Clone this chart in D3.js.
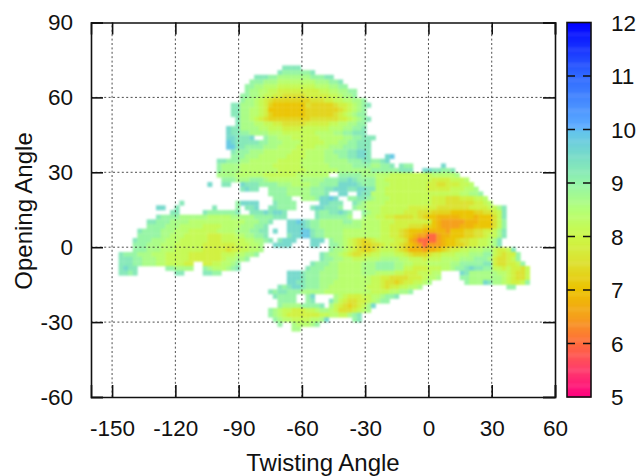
<!DOCTYPE html>
<html><head><meta charset="utf-8">
<script src="https://cdn.jsdelivr.net/npm/d3@7/dist/d3.min.js"></script>
<style>html,body{margin:0;padding:0;background:#fff}text{font-family:"Liberation Sans",Arial,sans-serif;fill:#111}</style>
</head><body><div id="chart"></div>
<script>
const xTicks = [-150,-120,-90,-60,-30,0,30,60];
const yTicks = [-60,-30,0,30,60,90];
const cTicks = [5,6,7,8,9,10,11,12];
const xLabel = "Twisting Angle";
const yLabel = "Opening Angle";
const colorStops = [5,5.5,6,6.5,7,7.5,8,8.5,9,9.5,9.95,10.05,11,12];
const colorValues = ["#ff0080","#ff3c6c","#ff6c3c","#f5a01c","#ecc200","#dde030","#ccf848","#b4ff78","#94f4aa","#78dcc8","#64c4ec","#5cacff","#3068ff","#0000ff"];
// cell value codes
const codeValues = {a:5.95,b:6.5,c:6.8,d:7.05,e:7.3,f:7.55,g:7.85,h:8.15,i:8.4,j:8.65,k:8.95,l:9.25,m:9.55,n:9.85};
// each row: "firstColumn:codes" runs of cells
const gridRows = [
"35:llll",
"34:lkkkkkkl",
"29:lllkkjjjjjjjkkkll",
"28:kkkjjjiiiiiiiijjjkkl",
"27:kkjjiiihhhhhhhhiiijjkk",
"27:kjjiihhggggggggghhiijjkk",
"26:kkjjihhggfffffggggghhijjk",
"26:kjjihgfeeeeeeeefffgghhiijjk",
"24:lljjjihgedddddddfeeeeefgghijkl",
"24:lljjiihgddddddddeeeeeeefghijk",
"24:lljjiihgedddddddeeeeeefghijkk",
"25:ljjihgfeeeeeeeeeffffffgghijkl",
"25:ljjjiihhggfffffggggghhiijjkk",
"23:mlljjjjiihhhgggghhhhhhiiijjkkl",
"23:mllkkjjjjiiihhhhhhhiiiijjkklll",
"23:mmlllm 31:kjjiiihhhhhhiiiiijjkklll",
"23:nmlllllkkjjjiiiihhhhhiiijjkklll",
"23:nnllkkkkjjjiiiihhhhiiijjjkkklll",
"24:lkkkjjjiiiiiihhhiiiijjkkkllmml",
"24:kkkjjjiiiiiihhhhiiiijjjkkllmml 57:mn",
"21:llkkkjjiiiiiihhhhhiiiiijjjjjkkkllkklm",
"21:kjjjjiiiiiiihhhhhhiiiiiijjjjjkkkkjjkkl 60:lkk 69:m",
"21:kjjjjiiiiiiiihhhhhhiiiiiiijjjjjjjkkkkkklll 65:mmllkkl",
"21:jjjjiiiiiihhhhhhhiiiiiii 47:kkkkkjjjiiihhhhhhhhhiiiiij",
"22:kkkjjjkkkj 32:iiiiiiijjjjjkkk 47:llmlkkkk 55:iihhhhhhhh 65:hhgggghhhi",
"19:m 22:ll 26:mlllkkkkjjjiiiijjkkkkkl 47:mmmmlkkk 55:iiihhhhhhh 65:hggffggghhi",
"26:lmll 32:kkkkjjjjjkkkll 46:mmmllmmll 55:iihhhhhh 63:hhhggggghhhiij",
"32:kkkkjjjjjkkkl 47:mm 51:mll 54:iiihhhhhh 63:hhhhhhhhhhiijjk",
"33:kkkk 39:jjjkmmnm 49:kkll 53:kjiiihhhh 62:hhhhhgggfffggghhi",
"13:l 25:kmmmm 33:lkkkk 43:mmlll 50:lkjiiiihhhhhh 63:hhhhgggffffffgghi",
"8:mm 12:l 20:l 25:k 27:llm 32:llkkkk 41:lmmlllk 50:kjjiii 56:hhhhhhggggggfffffffgggghhjl",
"11:ll 18:lkkkkkkl 28:lllmlmml 42:lkkllmlk 52:kjiih 57:hhhhgggfffeeeedddddeeffghl",
"8:lkkkkjjjjjjiiiiijjjjjkkkklll 42:lkkkkkkj 52:jiihhg 58:gffffg 64:feddcccccdddcdddfhl",
"6:llkkkjjjjiiiiiiiiiiiijjjkkl 36:mmnm 40:lkkjjjjjkkjjii 54:iihhhgggggggg 67:dcbbbbbcccdddfhk",
"6:kkkkjjjiiiiihhhhiiiijjjkkl 36:mmmm 40:lkkjjjjjjjjjii 54:iihhggggfffe 66:edcbbbbcccddddfhk",
"4:lkkkkjjjiiihhhhhhiiiijjjkkll 33:m 36:mmmnnl 42:kkjjjjiiiiii 54:iihhggf 61:edddcccccb 71:dddeeffgghjl",
"4:kkkkkjjiiihhhhhggghhhiijjkkl 36:lmmnn 41:lkkjjjjiiiiii 54:iihhggfe 62:dcbbaabcc 71:dddeeffghhjl",
"3:lkkkjjjiiihhhhhhggghhhhhiijjkl 34:lmmm 41:mmm 45:kjjihgfefghhhhggf 62:cbaaaabcd 71:deffgghhijl",
"3:kkkjjjiiihhhhhhggggggghhhiij 33:mmmm 41:mm 45:kkjihgfeeffgh 58:ggfedcbabbbcd 71:deefgghhijl",
"3:kkkjjjiiihhhhhhgggggfgghhiij 45:kjjihgfeefgh 57:hhgfe 62:cccbccd 69:efgghhiiijj 80:hgghl",
"0:lkkkjjjiiihhhhhggggggghhhiijjk 43:lkjjihgffgghhi 57:iihhg 62:feeefgg 69:hhhiiijjjkk 80:hgfggk",
"0:lllkkjjjiihhhhhggggggghiijjk 43:lkkjjiihhhiiij 57:jjjii 62:hhhghhh 69:iiiijjjkkkj 80:gffghk",
"0:lllkkjjjiihhhhgg 18:gghhiijk 41:lkkkjjiiiiijjjkk 57:kkjjiihhhiii 69:iijjkkkkkll 80:gffgghk",
"0:lmll 10:kkjjjj 18:kjiiijkl 40:lkkkjjjiiiiijjjkk 57:kkjjhhggghhh 69:iijkklmllkk 80:hhghggfh",
"0:llkl 12:ll 18:llkk 36:mmmlk 41:kkjjjjiiiiijjjii 57:iihhggghhhii 73:mljjjjjjiihgffh",
"36:mmmlkk 42:kjjjjiiiiiiih 55:hggffffggghiij 73:kkjjjjjjjihgffh",
"36:mmllkk 42:kjjjiiiiiiiih 55:hgffefgghhij 74:kjjjmljjihgghk",
"34:lklmmlkk 42:kjjiiiiiiiihh 55:hgfgghhiij 83:kk",
"32:lkllkkkjjj 42:jjiiiiiiiiiih 55:hhhiijjk",
"33:lkkkk 40:km 46:jihggghhiijkkl",
"34:kkkk 40:kl 45:ljhgffgghijkk",
"34:kjjjjkkkkl 45:jhgfefghjm",
"32:kjihhggghhij 44:jihfffghij",
"32:kjihggggggghhiihhjkl",
"33:kjiihhhhiijm 50:kl",
"34:k 37:jiiijk",
"37:jj"
];
const W=640,H=476;
const x=d3.scaleLinear().domain([-160,60]).range([91,555]);
const y=d3.scaleLinear().domain([-60,90]).range([397,22.5]);
const barY=d3.scaleLinear().domain([5,12]).range([397,22.5]);
const color=d3.scaleLinear().domain(colorStops).range(colorValues).clamp(true);
const xStart=-146.9,xStep=2.215,yStart=72.8,yStep=1.868;
const cells=[];
gridRows.forEach((row,j)=>row.split(" ").forEach(tok=>{
  const [c,codes]=tok.split(":");
  [...codes].forEach((ch,k)=>cells.push({c:+c+k,r:j,v:codeValues[ch]}));
}));
const svg=d3.select("#chart").append("svg").attr("width",W).attr("height",H).style("display","block");
svg.append("g").style("filter","blur(0.9px)").selectAll("rect").data(cells).join("rect")
 .attr("x",d=>x(xStart+d.c*xStep)).attr("y",d=>y(yStart-d.r*yStep))
 .attr("width",x(xStep)-x(0)+0.3).attr("height",y(0)-y(yStep)+0.3)
 .attr("fill",d=>color(d.v));
// grid
const gridG=svg.append("g");
gridG.selectAll("line.gx").data(xTicks.slice(0,-1)).join("line")
 .attr("x1",d=>x(d)).attr("x2",d=>x(d)).attr("y1",y(-60)).attr("y2",y(90));
gridG.selectAll("line.gy").data(yTicks.slice(1,-1)).join("line").attr("class","gy")
 .attr("x1",x(-160)).attr("x2",x(60)).attr("y1",d=>y(d)).attr("y2",d=>y(d));
gridG.selectAll("line").attr("stroke","#222").attr("stroke-width",1).attr("stroke-dasharray","2 2.4").attr("opacity",.8);
// axes
const style=g=>{g.select(".domain").attr("stroke","#111").attr("stroke-width",1.6);
 g.selectAll(".tick line").attr("stroke","#111").attr("stroke-width",1.6);
 g.selectAll("text").attr("font-size",22.5).attr("font-family",'"Liberation Sans",Arial,sans-serif').attr("fill","#111");};
const fmt=d=>String(d);
svg.append("g").attr("transform",`translate(0,${y(-60)})`).call(d3.axisBottom(x).tickValues(xTicks).tickSize(-12).tickPadding(23).tickFormat(fmt)).call(style);
svg.append("g").attr("transform",`translate(0,${y(90)})`).call(d3.axisTop(x).tickValues(xTicks).tickSize(-12).tickFormat("")).call(style);
svg.append("g").attr("transform",`translate(${x(-160)},0)`).call(d3.axisLeft(y).tickValues(yTicks).tickSize(-12).tickPadding(18).tickFormat(fmt)).call(style);
svg.append("g").attr("transform",`translate(${x(60)},0)`).call(d3.axisRight(y).tickValues(yTicks).tickSize(-12).tickFormat("")).call(style);
svg.selectAll(".domain").attr("fill","none");
// colour bar
const barX=567,barW=24;
const barSteps=d3.range(5,12,0.02);
svg.append("g").selectAll("rect").data(barSteps).join("rect")
 .attr("x",barX).attr("width",barW).attr("y",d=>barY(d+0.02)).attr("height",d=>barY(d)-barY(d+0.02)+0.5).attr("fill",d=>color(d));
svg.append("rect").attr("x",barX).attr("y",barY(12)).attr("width",barW).attr("height",barY(5)-barY(12)).attr("fill","none").attr("stroke","#111").attr("stroke-width",1.6);
const ct=svg.append("g").selectAll("g").data(cTicks).join("g");
ct.filter(d=>d>5&&d<12).append("line").attr("x1",barX).attr("x2",barX+barW).attr("y1",d=>barY(d)).attr("y2",d=>barY(d)).attr("stroke","#111").attr("stroke-width",1.6).attr("stroke-dasharray","8 8");
ct.append("text").attr("x",611).attr("y",d=>barY(d)).attr("dy","0.36em").attr("font-size",22.5).text(d=>d);
svg.append("text").attr("x",323).attr("y",471).attr("text-anchor","middle").attr("font-size",24).text(xLabel);
svg.append("text").attr("transform",`translate(32,211) rotate(-90)`).attr("text-anchor","middle").attr("font-size",24).text(yLabel);
</script></body></html>
